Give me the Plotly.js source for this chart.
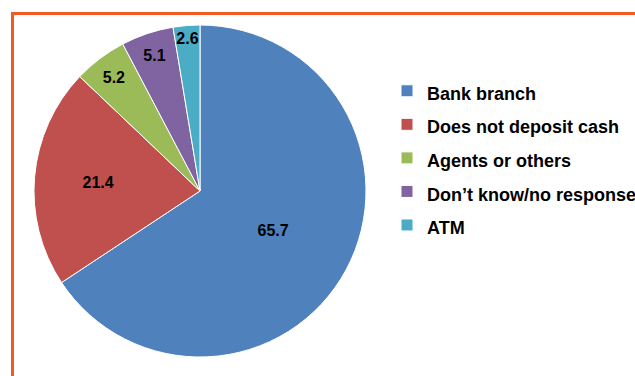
<!DOCTYPE html>
<html>
<head>
<meta charset="utf-8">
<script src="https://cdn.plot.ly/plotly-3.0.1.min.js"></script>
<style>
html,body{margin:0;padding:0;background:#fff;}
#chart{width:635px;height:376px;}
</style>
</head>
<body>
<div id="chart"></div>
<script>
const labels = ["Bank branch", "Does not deposit cash", "Agents or others", "Don\u2019t know/no response", "ATM"];
const values = [65.7, 21.4, 5.2, 5.1, 2.6];
const colors = ["#4F81BD", "#C0504D", "#9BBB59", "#8064A2", "#4BACC6"];

const W = 635, H = 376;
const legendLabels = labels.map(s => '<span style="font-size:18px">' + s + '</span>');

const trace = {
  type: "pie",
  labels: legendLabels,
  values: values,
  sort: false,
  direction: "clockwise",
  rotation: 0,
  marker: {colors: colors, line: {color: "#ffffff", width: 1}},
  textinfo: "value",
  texttemplate: "%{value}",
  textposition: "inside",
  insidetextorientation: "horizontal",
  textfont: {family: "Liberation Sans, Arial, sans-serif", size: 16, color: "#000000", weight: "bold"},
  hoverinfo: "label+value",
  domain: {x: [34/W, 366/W], y: [(H-357)/H, (H-25)/H]}
};

const layout = {
  width: W, height: H,
  margin: {l: 0, r: 0, t: 0, b: 0, autoexpand: false},
  paper_bgcolor: "#ffffff",
  showlegend: true,
  uniformtext: {minsize: 16, mode: "show"},
  legend: {
    x: 387/W, xanchor: "left",
    y: 1 - 158/H, yanchor: "middle",
    font: {family: "Liberation Sans, Arial, sans-serif", size: 23.5, color: "#000000", weight: "bold"},
    bgcolor: "rgba(0,0,0,0)",
    traceorder: "normal"
  },
  shapes: [{
    type: "rect", xref: "paper", yref: "paper",
    x0: 12.5/W, x1: 1.05, y0: -0.05, y1: 1 - 13.5/H,
    line: {color: "#F15A22", width: 3},
    fillcolor: "rgba(0,0,0,0)",
    layer: "below"
  }]
};

Plotly.newPlot("chart", [trace], layout, {staticPlot: true, displayModeBar: false});
</script>
</body>
</html>
